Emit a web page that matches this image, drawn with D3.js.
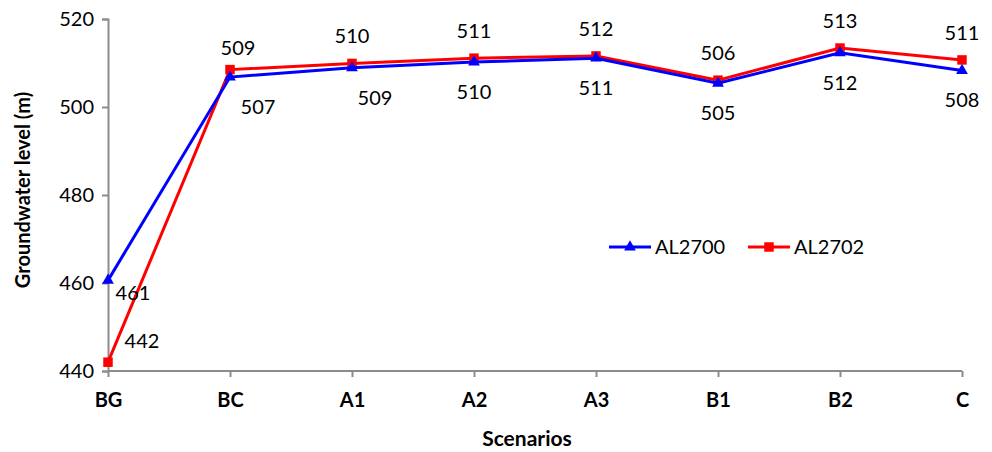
<!DOCTYPE html>
<html>
<head>
<meta charset="utf-8">
<script src="https://cdn.jsdelivr.net/npm/d3@7"></script>
<style>
  body { margin: 0; background: #fff; }
  svg text { font-family: Lato, "Open Sans", sans-serif; fill: #000; }
</style>
</head>
<body>
<div id="chart"></div>
<script>
// categories and series
var scenarios = ["BG", "BC", "A1", "A2", "A3", "B1", "B2", "C"];
var al2700 = [460.6, 506.8, 508.9, 510.2, 511.1, 505.4, 512.3, 508.3];
var al2702 = [442.0, 508.5, 509.9, 511.1, 511.6, 506.1, 513.4, 510.7];
var yTicks = [440, 460, 480, 500, 520];

// label nudges (layout only), blue below, red above
var blueDx = [25, 28, 23, 0, 0, 0, 0, 0],
    blueDy = [20, 37, 37, 37, 37, 37, 37, 37],
    redDx  = [34, 8, 0, 0, 0, 0, 0, 0],
    redDy  = [-14, -15, -20, -20, -20, -20, -20, -20];

var W = 992, H = 452;
var margin = {top: 19, right: 30, bottom: 81, left: 108};
var width = W - margin.left - margin.right,
    height = H - margin.top - margin.bottom;

var svg = d3.select("#chart").append("svg")
    .attr("width", W).attr("height", H);

var g = svg.append("g")
    .attr("transform", "translate(" + margin.left + "," + margin.top + ")");

var xScale = d3.scalePoint().domain(scenarios).range([0, 854]);
var yScale = d3.scaleLinear().domain([440, 520]).range([height, 0]);

// axes
var yAxis = d3.axisLeft(yScale).tickValues(yTicks).tickSize(6).tickPadding(8);
var xAxis = d3.axisBottom(xScale).tickSize(6).tickPadding(16);

var yAxisEl = g.append("g").call(yAxis);
yAxisEl.selectAll("text").style("font-size", "20px");

var xAxisEl = g.append("g")
    .attr("transform", "translate(0," + height + ")")
    .call(xAxis);
xAxisEl.selectAll("text").style("font-size", "20px").style("font-weight", "bold");
xAxisEl.select(".domain").attr("d", "M0,0H" + width);

g.selectAll(".domain, .tick line")
    .attr("stroke", "#8c8c8c").attr("stroke-width", 2);

// axis titles
svg.append("text")
    .attr("transform", "translate(30," + 190 + ") rotate(-90)")
    .attr("text-anchor", "middle")
    .style("font-size", "20px").style("font-weight", "bold")
    .text("Groundwater level (m)");

svg.append("text")
    .attr("x", 527).attr("y", 446)
    .attr("text-anchor", "middle")
    .style("font-size", "21px").style("font-weight", "bold")
    .text("Scenarios");

var line = d3.line()
    .x(function (d, i) { return xScale(scenarios[i]); })
    .y(function (d) { return yScale(d); });

var tri = d3.symbol().type(d3.symbolTriangle).size(60);
var sq = d3.symbol().type(d3.symbolSquare).size(90);

function drawSeries(vals, color, sym) {
  g.append("path").datum(vals)
    .attr("fill", "none").attr("stroke", color).attr("stroke-width", 3)
    .attr("d", line);
  g.selectAll(null).data(vals).enter().append("path")
    .attr("transform", function (d, i) {
      return "translate(" + xScale(scenarios[i]) + "," + yScale(d) + ")";
    })
    .attr("d", sym).attr("fill", color);
}

drawSeries(al2702, "#ff0000", sq);
drawSeries(al2700, "#0000ff", tri);

var fmt = d3.format(".0f");

function drawLabels(vals, dx, dy) {
  g.selectAll(null).data(vals).enter().append("text")
    .attr("x", function (d, i) { return xScale(scenarios[i]) + dx[i]; })
    .attr("y", function (d, i) { return yScale(d) + dy[i]; })
    .attr("text-anchor", "middle").style("font-size", "20px")
    .text(function (d) { return fmt(d); });
}
drawLabels(al2700, blueDx, blueDy);
drawLabels(al2702, redDx, redDy);

// legend
var legend = svg.append("g").attr("transform", "translate(609,247)");
var items = [
  {name: "AL2700", color: "#0000ff", sym: tri, x: 0},
  {name: "AL2702", color: "#ff0000", sym: sq, x: 139}
];
items.forEach(function (it) {
  var lg = legend.append("g").attr("transform", "translate(" + it.x + ",0)");
  lg.append("line").attr("x1", 0).attr("x2", 42).attr("y1", 0).attr("y2", 0)
    .attr("stroke", it.color).attr("stroke-width", 3);
  lg.append("path").attr("transform", "translate(21,0)").attr("d", it.sym).attr("fill", it.color);
  lg.append("text").attr("x", 46).attr("y", 7).style("font-size", "20px").text(it.name);
});
</script>
</body>
</html>
